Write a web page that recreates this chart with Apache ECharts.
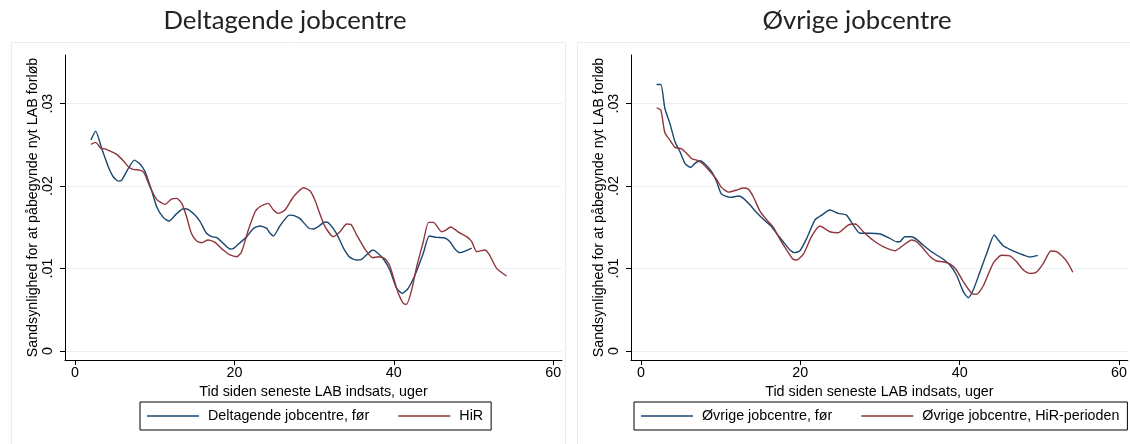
<!DOCTYPE html>
<html><head><meta charset="utf-8">
<script src="https://cdn.jsdelivr.net/npm/echarts@6/dist/echarts.min.js"></script>
<style>html,body{margin:0;padding:0;background:#fff}#c{width:1130px;height:444px}</style>
</head><body><div id="c"></div>
<script>
// ---- data ----
const titles = ['Deltagende jobcentre', 'Øvrige jobcentre'];
const seriesNames = [['Deltagende jobcentre, før', 'HiR'], ['Øvrige jobcentre, før', 'Øvrige jobcentre, HiR-perioden']];
const xTicks = [0, 20, 40, 60];
const yTicks = [0, 0.01, 0.02, 0.03];
const yTickLabels = ['0', '.01', '.02', '.03'];
const xTitle = 'Tid siden seneste LAB indsats, uger';
const yTitle = 'Sandsynlighed for at påbegynde nyt LAB forløb';

const leftBeforeWeeks = [2.0,2.6,3.35,4.18,4.8,5.43,5.85,6.7,7.45,8.15,
  8.8,9.6,10.25,11.07,11.8,12.7,13.6,14.2,15.05,15.7,
  16.5,17.15,17.8,18.6,19.45,19.86,20.7,21.55,22.4,23.2,
  24.05,24.47,24.9,25.7,26.9,27.4,28.2,29.27,29.9,30.5,
  31.37,31.8,32.8,33.7,34.5,35.35,35.97,36.8,37.35,37.93,
  38.7,39.5,40.35,41.07,41.8,42.66,43.7,44.45,45.4,46.4,
  47.05,47.7,48.3,49.06,49.77];
const leftBeforeVals = [.02558,.02667,.02457,.02234,.02113,.0206,.0207,.02214,.02315,.02267,
  .02174,.01952,.01749,.0162,.01576,.0166,.01725,.01717,.01648,.01568,
  .01427,.01386,.01374,.01305,.01236,.0124,.01313,.01386,.01487,.01515,
  .01487,.01427,.01394,.01515,.01648,.01645,.01608,.01495,.01479,.01507,
  .01564,.01555,.01427,.01245,.01135,.01103,.01111,.01184,.01224,.01192,
  .01115,.00982,.0076,.00699,.0076,.00921,.01184,.01394,.01378,.0137,
  .01325,.01233,.01192,.01216,.01248];

const leftHirWeeks = [2.0,2.6,3.26,3.76,4.6,5.23,6.06,6.7,7.3,8.15,
  8.66,9.4,10.25,11.3,12.1,12.76,13.4,14.0,14.6,15.27,
  15.9,16.7,17.56,18.6,19.45,20.3,20.9,21.75,22.6,23.2,
  24.25,24.9,25.5,26.35,27.2,27.6,28.65,29.5,30.1,30.7,
  31.37,32.4,33.25,34.08,34.6,35.35,36.4,37.35,38.06,38.9,
  39.5,40.56,41.2,41.6,42.24,42.87,43.7,44.35,44.97,46.0,
  46.4,47.14,48.1,49.15,49.77,50.4,51.44,52.0,52.9,54.16];
const leftHirVals = [.02505,.0253,.02457,.02452,.02416,.02384,.02307,.02234,.02202,.02194,
  .02162,.01992,.01839,.01778,.01842,.01851,.0179,.01628,.01427,.01333,
  .01313,.01345,.01317,.01224,.01164,.01143,.01204,.01467,.01689,.01749,
  .0179,.01709,.01669,.01709,.0184,.01891,.0198,.0194,.0183,.01669,
  .01507,.01386,.01446,.01539,.01535,.01406,.01233,.01131,.01143,.01119,
  .0103,.00699,.00577,.00566,.0074,.01022,.01325,.0156,.0156,.01446,
  .01458,.01503,.01442,.01386,.01325,.01204,.01224,.01164,.01002,.00909];

const rightBeforeWeeks = [1.97,2.5,3.0,3.63,4.27,4.9,5.52,6.24,6.77,7.4,
  8.03,8.87,9.5,10.1,11.2,12.24,12.86,13.7,14.54,15.6,
  16.4,17.0,17.85,18.7,19.3,19.95,20.8,21.83,22.7,23.7,
  24.76,25.8,26.64,27.5,28.7,30.0,31.0,32.08,32.5,33.1,
  33.97,34.6,35.4,36.3,37.1,37.9,38.77,39.6,40.45,41.07,
  41.7,42.55,43.4,44.33,44.84,45.5,46.3,47.14,48.0,48.8,
  49.8];
const rightBeforeVals = [.03233,.03233,.02941,.0276,.02537,.02416,.02275,.02226,.02275,.02307,
  .02267,.02174,.02052,.01903,.01863,.01879,.01851,.0177,.01676,.01576,
  .01507,.01427,.01325,.01224,.01192,.01216,.01366,.01588,.01648,.01709,
  .01669,.01648,.01527,.01427,.01427,.01418,.01378,.01325,.01325,.01386,
  .01386,.01354,.01285,.01216,.01164,.01115,.01042,.00921,.00719,.00646,
  .00739,.00961,.01184,.01406,.01345,.01273,.01232,.01196,.01164,.0114,
  .0116];

const rightHirWeeks = [1.97,2.5,3.0,3.63,4.27,5.1,5.75,6.38,7.0,7.6,
  8.45,9.5,10.1,10.96,12.0,12.86,13.5,14.1,14.97,15.8,
  16.64,17.5,18.3,19.1,19.54,20.4,21.4,22.46,23.7,24.76,
  26.0,26.9,27.9,29.1,30.4,31.9,32.7,33.97,34.6,35.4,
  36.3,37.1,37.9,38.77,39.6,40.45,41.5,42.1,42.95,44.2,
  45.25,46.3,47.14,48.0,48.8,49.65,50.5,51.44,52.15,53.0,
  53.6,54.2];
const rightHirVals = [.02949,.02921,.02646,.02558,.02469,.02452,.02396,.02331,.02315,.02282,
  .02202,.02081,.01984,.01927,.01952,.01976,.0196,.0187,.01689,.01588,
  .01495,.01345,.01224,.01111,.01103,.01176,.01386,.01515,.01446,.01434,
  .01527,.01539,.01446,.01345,.01264,.01216,.01264,.01345,.01325,.01245,
  .01143,.01091,.01082,.01055,.00982,.0084,.007,.00687,.00788,.01063,
  .0116,.01152,.01082,.00982,.00941,.00958,.01063,.01212,.01204,.01136,
  .01063,.00954];

// ---- build ----
const zip = (w, v) => w.map((x, i) => [x, v[i]]);
const NAVY = '#1a476f', MAROON = '#90353b';
const FONT = '"Liberation Sans", Arial, sans-serif';
const FS = 14.3;
const panels = [
  {left: 65, frame: 9, titleX: 280, lines: [zip(leftBeforeWeeks, leftBeforeVals), zip(leftHirWeeks, leftHirVals)], legendLeft: 140},
  {left: 631, frame: 575, titleX: 852, lines: [zip(rightBeforeWeeks, rightBeforeVals), zip(rightHirWeeks, rightHirVals)], legendLeft: 634}
];
const gridW = 497, gridTop = 55, gridH = 305;

const option = {
  backgroundColor: '#fff',
  animation: false,
  textStyle: {fontFamily: FONT},
  title: panels.map((p, i) => ({
    text: titles[i], left: p.titleX, top: 3, textAlign: 'center',
    textStyle: {fontFamily: 'Lato, "Open Sans", sans-serif', fontSize: 25.7, fontWeight: 'normal', color: '#222'}
  })),
  graphic: panels.map(p => ({
    type: 'rect', left: p.frame, top: 40, silent: true, z: -1,
    shape: {width: 554, height: 402},
    style: {fill: 'none', stroke: '#e6eef0', lineWidth: 1}
  })),
  legend: panels.map((p, i) => ({
    data: seriesNames[i], left: p.legendLeft, top: 402,
    orient: 'horizontal', icon: 'rect', itemWidth: 52, itemHeight: 1.5,
    itemGap: 29, padding: [7, 8, 7, 7],
    borderColor: '#000', borderWidth: 1,
    textStyle: {fontFamily: FONT, fontSize: FS, color: '#000', padding: [0, 0, 0, 4]}
  })),
  grid: panels.map(p => ({left: p.left, top: gridTop, width: gridW, height: gridH, containLabel: false})),
  xAxis: panels.map((p, i) => ({
    type: 'value', gridIndex: i, min: -1.25, max: 61.1,
    name: xTitle, nameLocation: 'middle', nameGap: 21,
    nameTextStyle: {fontFamily: FONT, fontSize: FS, color: '#000'},
    axisLine: {show: true, onZero: false, lineStyle: {color: '#000', width: 1}},
    axisTick: {show: true, customValues: xTicks, length: 5, lineStyle: {color: '#000'}},
    axisLabel: {customValues: xTicks, margin: 6, fontFamily: FONT, fontSize: FS, color: '#000'},
    splitLine: {show: false}
  })),
  yAxis: panels.map((p, i) => ({
    type: 'value', gridIndex: i, min: -0.0011, max: 0.0359,
    name: yTitle, nameLocation: 'middle', nameGap: 23,
    nameTextStyle: {fontFamily: FONT, fontSize: FS, color: '#000'},
    axisLine: {show: true, onZero: false, lineStyle: {color: '#000', width: 1}},
    axisTick: {show: true, customValues: yTicks, length: 5, lineStyle: {color: '#000'}},
    axisLabel: {customValues: yTicks, rotate: 90, margin: 10, fontFamily: FONT, fontSize: FS, color: '#000',
      formatter: v => yTickLabels[yTicks.findIndex(t => Math.abs(t - v) < 1e-9)] ?? ''},
    splitLine: {show: true, lineStyle: {color: '#eaf1f3', width: 1}}
  })),
  series: []
};
panels.forEach((p, i) => {
  p.lines.forEach((d, j) => {
    option.series.push({
      type: 'line', name: seriesNames[i][j], xAxisIndex: i, yAxisIndex: i,
      data: d, showSymbol: false, symbol: 'none', smooth: 0.2,
      lineStyle: {color: j === 0 ? NAVY : MAROON, width: 1.4},
      itemStyle: {color: j === 0 ? NAVY : MAROON}
    });
  });
});
const chart = echarts.init(document.getElementById('c'), null, {renderer: 'canvas'});
chart.setOption(option);
</script>
</body></html>
